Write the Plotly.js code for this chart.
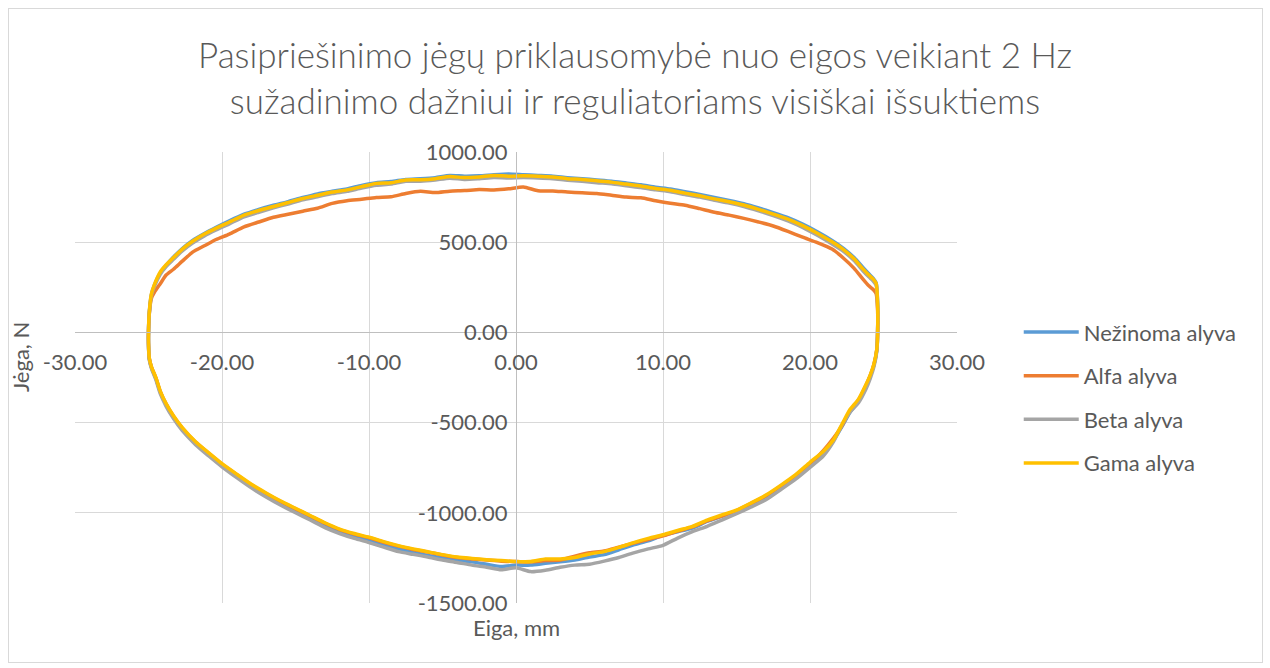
<!DOCTYPE html>
<html>
<head>
<meta charset="utf-8">
<script src="https://cdn.plot.ly/plotly-3.0.1.min.js"></script>
<style>
html,body{margin:0;padding:0;background:#fff;}
#chart{position:absolute;left:0;top:0;width:1270px;height:668px;}
#frame{position:absolute;left:8px;top:8px;width:1253px;height:653px;border:1px solid #d9d9d9;pointer-events:none;}
</style>
</head>
<body>
<div id="chart"></div>
<div id="frame"></div>
<script>
// Shared stroke positions (mm): upper branch left->right, lower branch right->left
const xUpper = [-25.0,-24.95,-24.8,-24.6,-24.2,-23.8,-23.3,-22.7,-22.0,-21.2,-20.4,
  -19.5,-18.5,-17.5,-16.5,-15.5,-14.5,-13.5,-12.5,-11.5,-10.5,
  -9.5,-8.5,-7.5,-6.5,-5.5,-4.5,-3.5,-2.5,-1.5,-0.5,
  0.5,1.5,2.5,3.5,4.5,5.5,6.5,7.5,8.5,9.5,
  10.5,11.5,12.5,13.5,14.5,15.5,16.5,17.5,18.5,19.5,
  20.5,21.5,22.3,23.0,23.6,24.0,24.3,24.5,24.6,24.6];
const xLower = [24.55,24.35,24.1,23.8,23.3,22.7,22.2,21.6,20.9,
  20,19,18,17,16,15,14,13,12,11,10,
  9,8,7,6,5,4,3,2,1,0,
  -1,-2,-3,-4,-5,-6,-7,-8,-9,-10,
  -11,-12,-13,-14,-15,-16,-17,-18,-19,-20,
  -20.9,-21.8,-22.7,-23.3,-23.8,-24.2,-24.5,-24.8,-24.95,-25.0,-25.0];

// Forces (N)
const yUpperNezinoma = [0,105,210,262,330,372,418,465,510,548,582,
  618,655,682,705,725,748,768,782,795,815,
  830,836,848,852,858,870,866,868,874,878,
  874,870,866,858,852,845,838,828,818,805,
  795,780,765,748,732,714,690,664,636,600,
  558,510,465,415,360,325,300,275,165,0];
const yLowerNezinoma = [-95,-180,-240,-300,-380,-445,-518,-598,-668,
  -735,-800,-858,-910,-952,-990,-1020,-1048,-1085,-1105,-1125,
  -1155,-1178,-1205,-1232,-1245,-1262,-1272,-1280,-1290,-1290,
  -1298,-1285,-1272,-1262,-1250,-1236,-1218,-1200,-1178,-1152,
  -1130,-1105,-1072,-1030,-990,-948,-902,-852,-795,-738,
  -676,-614,-535,-468,-400,-330,-255,-195,-145,-65,0];

const yUpperAlfa = [0,100,190,222,270,318,350,395,445,480,515,
  545,585,612,638,655,672,688,715,730,738,
  748,752,770,782,775,783,786,792,790,796,
  806,785,784,778,774,770,760,750,746,730,
  716,705,686,666,650,632,612,590,560,528,
  498,462,410,355,295,258,238,215,120,0];
const yLowerAlfa = [-92,-178,-240,-295,-375,-438,-515,-585,-655,
  -730,-795,-852,-905,-948,-988,-1018,-1045,-1078,-1102,-1128,
  -1148,-1168,-1190,-1212,-1222,-1240,-1262,-1265,-1272,-1270,
  -1268,-1262,-1256,-1248,-1234,-1218,-1203,-1185,-1163,-1138,
  -1118,-1093,-1058,-1018,-978,-938,-893,-845,-788,-730,
  -670,-608,-530,-465,-398,-328,-252,-192,-142,-62,0];

const yUpperBeta = [0,100,205,255,322,365,405,452,495,535,568,
  602,640,666,690,712,735,752,770,782,800,
  815,822,838,838,845,855,848,852,858,856,
  858,856,852,844,838,830,824,813,803,790,
  780,764,750,733,717,698,674,648,618,582,
  538,490,448,398,342,308,285,262,150,0];
const yLowerBeta = [-100,-190,-255,-315,-390,-445,-510,-605,-685,
  -748,-815,-872,-928,-968,-1005,-1040,-1075,-1105,-1140,-1180,
  -1200,-1222,-1248,-1268,-1285,-1290,-1302,-1318,-1326,-1305,
  -1316,-1302,-1290,-1275,-1262,-1245,-1230,-1215,-1190,-1165,
  -1142,-1115,-1082,-1040,-1000,-958,-912,-862,-805,-745,
  -685,-622,-545,-478,-410,-340,-262,-200,-150,-70,0];

const yUpperGama = [0,110,215,265,335,375,415,462,505,545,578,
  612,650,676,698,720,742,760,778,790,808,
  826,830,845,846,852,864,858,862,870,866,
  868,866,862,852,848,840,833,822,812,798,
  788,772,757,740,724,706,682,656,628,592,
  550,502,458,408,352,318,295,272,160,0];
const yLowerGama = [-90,-175,-235,-290,-370,-430,-505,-595,-660,
  -720,-790,-848,-902,-945,-985,-1012,-1040,-1075,-1098,-1122,
  -1142,-1165,-1192,-1215,-1228,-1248,-1256,-1256,-1270,-1270,
  -1265,-1260,-1253,-1245,-1232,-1216,-1200,-1182,-1160,-1135,
  -1115,-1090,-1055,-1015,-975,-935,-890,-842,-786,-728,
  -668,-606,-528,-462,-395,-325,-250,-190,-140,-60,0];

const seriesNames = ['Nežinoma alyva','Alfa alyva','Beta alyva','Gama alyva'];
const seriesColors = ['#5B9BD5','#ED7D31','#A5A5A5','#FFC000'];

const xTickVals = [-30,-20,-10,0,10,20,30];
const xTickText = ['-30.00','-20.00','-10.00','0.00','10.00','20.00','30.00'];
const yTickVals = [-1500,-1000,-500,0,500,1000];
const yTickText = ['-1500.00','-1000.00','-500.00','0.00','500.00','1000.00'];

const chartTitle = 'Pasipriešinimo jėgų priklausomybė nuo eigos veikiant 2 Hz<br>sužadinimo dažniui ir reguliatoriams visiškai išsuktiems';
const xTitle = 'Eiga, mm';
const yTitle = 'Jėga, N';

const xLoop = xUpper.concat(xLower);
const yLoops = [
  yUpperNezinoma.concat(yLowerNezinoma),
  yUpperAlfa.concat(yLowerAlfa),
  yUpperBeta.concat(yLowerBeta),
  yUpperGama.concat(yLowerGama)
];

const FONT = 'Lato, "Open Sans", sans-serif';
const traces = yLoops.map((ys, i) => ({
  type: 'scatter', mode: 'lines', name: seriesNames[i],
  x: xLoop, y: ys, legendgroup: 'g' + i,
  line: {color: seriesColors[i], width: 3.5, shape: 'spline', smoothing: 0.6}
}));

const layout = {
  width: 1270, height: 668,
  margin: {l: 75, r: 313, t: 152, b: 65},
  paper_bgcolor: '#ffffff', plot_bgcolor: '#ffffff',
  font: {family: FONT, color: '#595959', size: 22},
  title: {text: chartTitle, font: {family: FONT, size: 35, color: '#595959', weight: 300},
          x: 0.5, xref: 'container', xanchor: 'center', y: 1 - 68/668, yref: 'container', yanchor: 'middle',
          automargin: false},
  xaxis: {range: [-30, 30], tickvals: xTickVals, ticktext: xTickText,
          anchor: 'free', position: 0.6, side: 'bottom', automargin: false,
          showgrid: true, gridcolor: '#d9d9d9', gridwidth: 1,
          showline: true, linecolor: '#bfbfbf', linewidth: 1, zeroline: false,
          ticks: '', ticklabelstandoff: 10, tickfont: {size: 22, color: '#595959'}, fixedrange: true},
  yaxis: {range: [-1500, 1000], tickvals: yTickVals, ticktext: yTickText,
          anchor: 'free', position: 0.5, side: 'left', automargin: false,
          showgrid: true, gridcolor: '#d9d9d9', gridwidth: 1,
          showline: true, linecolor: '#bfbfbf', linewidth: 1, zeroline: false,
          ticks: '', ticklabelstandoff: 4, tickfont: {size: 22, color: '#595959'}, fixedrange: true},
  legend: {x: 1.07, xanchor: 'left', y: 0.455, yanchor: 'middle', yref: 'paper',
           font: {size: 22, color: '#595959'}, itemwidth: 55, tracegroupgap: 12, bgcolor: 'rgba(0,0,0,0)'},
  showlegend: true,
  annotations: [
    {text: xTitle, xref: 'paper', yref: 'paper', x: 0.5, y: -0.055, xanchor: 'center', yanchor: 'middle',
     showarrow: false, font: {size: 22, color: '#595959'}},
    {text: yTitle, xref: 'paper', yref: 'paper', x: -0.062, y: 0.546, xanchor: 'center', yanchor: 'middle',
     textangle: -90, showarrow: false, font: {size: 22, color: '#595959'}}
  ]
};

Plotly.newPlot('chart', traces, layout, {displayModeBar: false, staticPlot: true});
</script>
</body>
</html>
